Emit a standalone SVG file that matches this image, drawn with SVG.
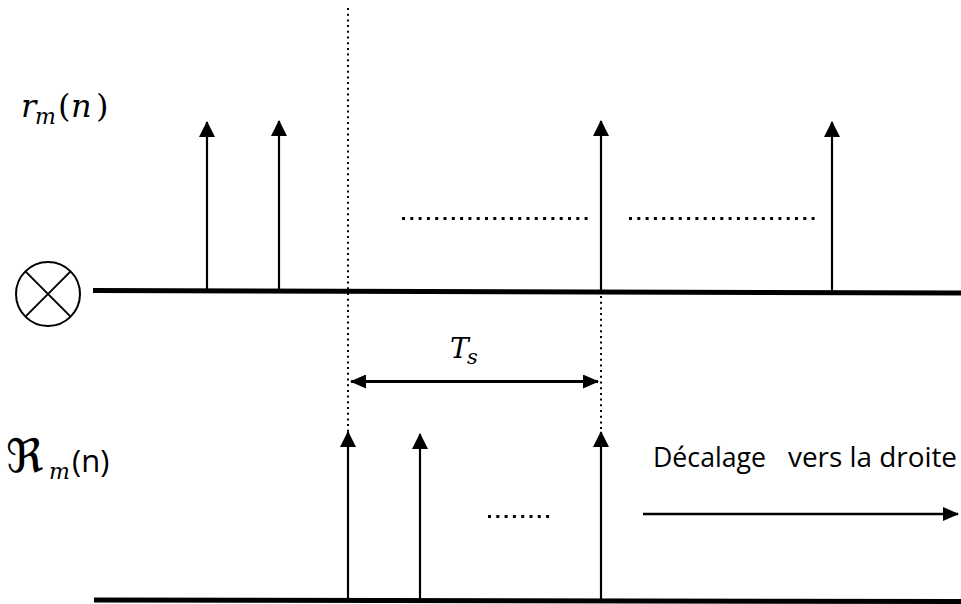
<svg xmlns="http://www.w3.org/2000/svg" width="961" height="604" viewBox="0 0 961 604">
  <style>
    .axis { stroke: #000; stroke-width: 5; fill: none; }
    .stem { stroke: #000; stroke-width: 2.2; fill: none; }
    .head { fill: #000; }
    .vdot { stroke: #000; stroke-width: 2; stroke-dasharray: 2 3.7; fill: none; }
    .hdot { stroke: #000; stroke-width: 3; stroke-dasharray: 3 5.3; fill: none; }
    .math { font-family: "DejaVu Serif", "Liberation Serif", serif; font-style: italic; fill: #000; }
    .up { font-style: normal; }
    .sans { font-family: "Open Sans", "Liberation Sans", sans-serif; fill: #000; }
  </style>
  <defs>
    <marker id="tri" viewBox="0 0 16 16" refX="15" refY="8" markerWidth="16" markerHeight="16" markerUnits="userSpaceOnUse" orient="auto-start-reverse">
      <path d="M0,0 L16,8 L0,16 Z" class="head"/>
    </marker>
    <marker id="tri2" viewBox="0 0 16 14" refX="15" refY="7" markerWidth="16" markerHeight="14" markerUnits="userSpaceOnUse" orient="auto-start-reverse">
      <path d="M0,0 L16,7 L0,14 Z" class="head"/>
    </marker>
  </defs>

  <!-- time axes -->
  <g id="axis-top">
    <line class="axis" x1="93" y1="290.5" x2="961" y2="293"/>
  </g>
  <g id="axis-bottom">
    <line class="axis" x1="94" y1="600" x2="961" y2="601.5"/>
  </g>

  <!-- multiplier symbol -->
  <g id="mixer" fill="none" stroke="#000" stroke-width="2">
    <circle cx="48" cy="294" r="32"/>
    <line x1="25.4" y1="271.4" x2="70.6" y2="316.6"/>
    <line x1="70.6" y1="271.4" x2="25.4" y2="316.6"/>
  </g>

  <!-- labels -->
  <g id="label-r">
    <text class="math" font-size="32"><tspan x="21" y="117">r</tspan><tspan x="35" y="124" font-size="22">m</tspan><tspan class="up" x="58" y="117">(</tspan><tspan x="71" y="117">n</tspan><tspan class="up" x="96" y="117">)</tspan></text>
  </g>
  <g id="label-R">
    <text font-family="DejaVu Serif, DejaVu Sans, serif" font-size="46" fill="#000"><tspan x="6" y="472">ℜ</tspan><tspan class="math" x="49" y="479" font-size="22">m</tspan><tspan class="sans" x="72" y="472" font-size="31">(n)</tspan></text>
  </g>

  <!-- pulses on the upper axis -->
  <g id="pulses-top">
    <line class="stem" x1="207" y1="291" x2="207" y2="122" marker-end="url(#tri)"/>
    <line class="stem" x1="279" y1="291" x2="279" y2="121" marker-end="url(#tri)"/>
    <line class="stem" x1="601" y1="292" x2="601" y2="121" marker-end="url(#tri)"/>
    <line class="stem" x1="832" y1="292" x2="832" y2="122" marker-end="url(#tri)"/>
  </g>

  <!-- pulses on the lower axis -->
  <g id="pulses-bottom">
    <line class="stem" x1="348" y1="599" x2="348" y2="432" marker-end="url(#tri)"/>
    <line class="stem" x1="420" y1="599" x2="420" y2="434" marker-end="url(#tri)"/>
    <line class="stem" x1="601" y1="600" x2="601" y2="432" marker-end="url(#tri)"/>
  </g>

  <!-- ellipsis dots -->
  <g id="ellipses">
    <line class="hdot" x1="402" y1="218.5" x2="588" y2="218.5"/>
    <line class="hdot" x1="629" y1="218.5" x2="816" y2="218.5"/>
    <line class="hdot" x1="488" y1="516.5" x2="554" y2="516.5"/>
  </g>

  <!-- connectors -->
  <g id="connectors">
    <line class="vdot" x1="348" y1="8" x2="348" y2="432"/>
    <line class="vdot" x1="601" y1="296" x2="601" y2="432"/>
    <line x1="351" y1="381.5" x2="598" y2="381.5" stroke="#000" stroke-width="3" marker-start="url(#tri2)" marker-end="url(#tri2)"/>
    <line x1="643" y1="514" x2="958" y2="514" stroke="#000" stroke-width="2.5" marker-end="url(#tri2)"/>
  </g>

  <g id="label-Ts">
    <text class="math" font-size="28"><tspan x="450" y="358">T</tspan><tspan x="467" y="364" font-size="21">s</tspan></text>
  </g>

  <g id="label-shift">
    <text class="sans" x="653" y="467" font-size="27" textLength="113" lengthAdjust="spacingAndGlyphs">Décalage</text>
    <text class="sans" x="788" y="467" font-size="27" textLength="169" lengthAdjust="spacingAndGlyphs">vers la droite</text>
  </g>
</svg>
